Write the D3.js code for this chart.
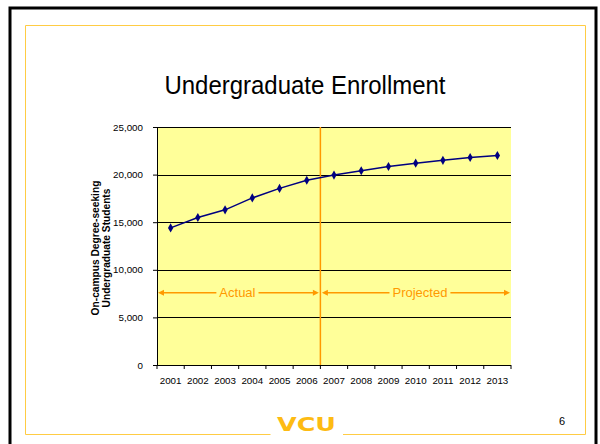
<!DOCTYPE html>
<html>
<head>
<meta charset="utf-8">
<script src="https://cdn.jsdelivr.net/npm/d3@7"></script>
<style>
  html, body { margin: 0; padding: 0; background: #fff; }
  svg { display: block; font-family: "Liberation Sans", Arial, sans-serif; }
</style>
</head>
<body>
<svg id="chart" width="600" height="444"></svg>
<script>
// ---- data ----
const years = ["2001","2002","2003","2004","2005","2006","2007","2008","2009","2010","2011","2012","2013"];
const enrollment = [14400, 15500, 16300, 17550, 18550, 19400, 19950, 20400, 20850, 21200, 21500, 21800, 22000];
const yTicks = [0, 5000, 10000, 15000, 20000, 25000];
const periodLabels = ["Actual", "Projected"];
const firstProjectedYear = "2007";
const titleText = "Undergraduate Enrollment";
const yTitleLines = ["On-campus Degree-seeking", "Undergraduate Students"];
const logoText = "VCU";
const pageNumber = "6";

// ---- layout ----
const svg = d3.select("#chart");
const plot = { left: 157, right: 511, top: 127, bottom: 365 };
const orange = "#FF9900";
const navy = "#000080";
const gold = "#FDBB13";

// slide frame
svg.append("rect").attr("x", 10).attr("y", 8).attr("width", 586).attr("height", 460)
  .attr("fill", "none").attr("stroke", "#000").attr("stroke-width", 3);
// inner gold border (with gap at bottom for logo)
const gb = { l: 25.5, t: 25.5, r: 585.5, b: 434.5 };
svg.append("path")
  .attr("d", `M270.5,${gb.b} H${gb.l} V${gb.t} H${gb.r} V${gb.b} H343`)
  .attr("fill", "none").attr("stroke", "#FFCC44").attr("stroke-width", 1);

// title
svg.append("text").attr("x", 305).attr("y", 94).attr("text-anchor", "middle")
  .attr("font-size", 26).attr("fill", "#000")
  .attr("textLength", 281).attr("lengthAdjust", "spacingAndGlyphs").text(titleText);

// scales
const x = d3.scaleBand().domain(years).range([plot.left, plot.right]).padding(0);
const y = d3.scaleLinear().domain([0, 25000]).range([plot.bottom, plot.top]);

// plot background
svg.append("rect").attr("x", plot.left).attr("y", plot.top)
  .attr("width", plot.right - plot.left).attr("height", plot.bottom - plot.top)
  .attr("fill", "#FFFF99");

// gridlines
svg.append("g").selectAll("line").data(yTicks.filter(d => d > 0)).join("line")
  .attr("x1", plot.left).attr("x2", plot.right)
  .attr("y1", d => Math.round(y(d)) + 0.5).attr("y2", d => Math.round(y(d)) + 0.5)
  .attr("stroke", "#000").attr("stroke-width", 1);

// y axis
const yAxis = svg.append("g").attr("transform", `translate(${plot.left},0)`)
  .call(d3.axisLeft(y).tickValues(yTicks).tickFormat(d3.format(",")).tickSize(4).tickPadding(10));
yAxis.selectAll("text").attr("font-size", 9.8).attr("font-family", "Liberation Sans, Arial, sans-serif").attr("fill", "#000");
yAxis.selectAll("line,path").attr("stroke", "#000");

// x axis
const xAxis = svg.append("g").attr("transform", `translate(0,${plot.bottom})`)
  .call(d3.axisBottom(x).tickSize(0).tickPadding(12));
xAxis.selectAll("text").attr("font-size", 9.8).attr("font-family", "Liberation Sans, Arial, sans-serif").attr("fill", "#000");
xAxis.select("path").attr("stroke", "#000").attr("d", `M${plot.left},0.5H${plot.right}`);
// category boundary ticks
const bounds = years.map(d => x(d)).concat([x(years[years.length - 1]) + x.bandwidth()]);
xAxis.append("g").selectAll("line").data(bounds).join("line")
  .attr("x1", d => d).attr("x2", d => d).attr("y1", 0).attr("y2", 4)
  .attr("stroke", "#000");

// divider between actual and projected
const divX = x(firstProjectedYear);
svg.append("line").attr("x1", divX).attr("x2", divX).attr("y1", plot.top).attr("y2", plot.bottom)
  .attr("stroke", orange).attr("stroke-width", 1.5);

// y-axis title
const yt = svg.append("g").attr("transform", "translate(0,248) rotate(-90)");
yTitleLines.forEach((t, i) => {
  yt.append("text").attr("x", 0).attr("y", 99 + i * 10.5).attr("text-anchor", "middle")
    .attr("font-size", 10.2).attr("font-weight", "bold").attr("fill", "#000").text(t);
});

// period annotations (double-headed arrows)
const arrowY = y(7600);
const spans = [[plot.left + 1, divX - 1.5], [divX + 1.5, plot.right - 1]];
const ann = svg.append("g");
spans.forEach((s, i) => {
  const cx = (s[0] + s[1]) / 2 + (i === 0 ? -1 : 4);
  const txt = ann.append("text").attr("x", cx).attr("y", arrowY + 4.5)
    .attr("text-anchor", "middle").attr("font-size", 13).attr("fill", orange).text(periodLabels[i]);
  const w = txt.node().getComputedTextLength();
  const gap = 3;
  ann.append("line").attr("x1", s[0] + 4).attr("x2", cx - w / 2 - gap).attr("y1", arrowY).attr("y2", arrowY)
    .attr("stroke", orange).attr("stroke-width", 1.5);
  ann.append("line").attr("x1", cx + w / 2 + gap).attr("x2", s[1] - 4).attr("y1", arrowY).attr("y2", arrowY)
    .attr("stroke", orange).attr("stroke-width", 1.5);
  ann.append("path").attr("d", `M${s[0]},${arrowY} l6,-3 v6 z`).attr("fill", orange);
  ann.append("path").attr("d", `M${s[1]},${arrowY} l-6,-3 v6 z`).attr("fill", orange);
});

// series line
const pts = years.map((d, i) => [x(d) + x.bandwidth() / 2, y(enrollment[i])]);
svg.append("path").attr("d", d3.line()(pts)).attr("fill", "none")
  .attr("stroke", navy).attr("stroke-width", 1.5);
svg.append("g").selectAll("path").data(pts).join("path")
  .attr("transform", d => `translate(${d[0]},${d[1]})`)
  .attr("d", d3.symbol(d3.symbolDiamond, 24))
  .attr("fill", navy);

// footer
svg.append("text").attr("x", 306.5).attr("y", 431).attr("text-anchor", "middle")
  .attr("font-size", 20).attr("font-weight", "bold").attr("fill", gold)
  .attr("textLength", 59).attr("lengthAdjust", "spacingAndGlyphs")
  .style("font-family", "'DejaVu Sans', 'Liberation Sans', sans-serif").text(logoText);
svg.append("text").attr("x", 562).attr("y", 425).attr("text-anchor", "middle")
  .attr("font-size", 11).attr("fill", "#000").text(pageNumber);
</script>
</body>
</html>
